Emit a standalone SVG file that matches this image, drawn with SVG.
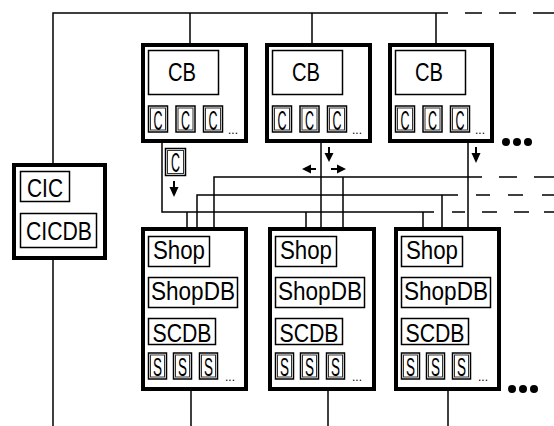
<svg xmlns="http://www.w3.org/2000/svg" width="554" height="426" viewBox="0 0 554 426">
<style>
.ob{fill:#fff;stroke:#000;stroke-width:4}
.ib{fill:none;stroke:#000;stroke-width:1.5}
.db{fill:none;stroke:#333;stroke-width:1}
.t{font-family:"Liberation Sans",Arial,sans-serif;fill:#000;text-anchor:middle}
.big{font-size:25px}
.tall{font-size:27px}
.sm{font-size:26px}
.dots{font-family:"Liberation Sans",Arial,sans-serif;font-size:12px;fill:#000}
.w{fill:none;stroke:#000;stroke-width:1.5}
.ah{fill:#000;stroke:none}
.as{stroke:#000;stroke-width:2}
</style>
<rect width="554" height="426" fill="#fff"/>
<g id="connectors">
<path class="w" d="M53,163 V13 H448 M465,13 H482 M499,13 H516 M533,13 H554 M190,13 V45 M312,13 V45 M436,13 V45 M53,258 V426 M191,389 V426 M328,389 V426 M448,389 V426"/>
<path class="w" d="M162,141 V212 H434 M452,212 H465 M482,212 H497 M514,212 H529 M544,212 H554 M197,229 V195 H458 M476,195 H490 M508,195 H523 M542,195 H554 M214,229 V177 H482 M499,177 H517 M534,177 H554"/>
<path class="w" d="M187,212 V229 M306,212 V229 M321,141 V229 M343,177 V229 M423,212 V229 M442,195 V229 M468,141 V229"/>
<g id="c-label">
<rect class="ib" x="165.5" y="148.5" width="20" height="27"/>
<rect class="db" x="167.5" y="150.5" width="16" height="23"/>
<text class="t tall" x="175.5" y="171.5" textLength="9" lengthAdjust="spacingAndGlyphs">C</text>
</g>
<path class="as" d="M174,181 V188 M329,147 V154 M476,147 V154 M311,169 H316 M331,169 H337"/>
<polygon class="ah" points="169.5,187 178.5,187 174,197"/>
<polygon class="ah" points="324.5,153 333.5,153 329,162"/>
<polygon class="ah" points="471.5,153 480.5,153 476,163"/>
<polygon class="ah" points="302,169 311,164.5 311,173.5"/>
<polygon class="ah" points="346,169 337,164.5 337,173.5"/>
</g>
<g id="cic">
<rect class="ob" x="14" y="165" width="91" height="93"/>
<rect class="ib" x="20.5" y="171.5" width="49" height="30"/>
<text class="t" style="font-size:26.5px" x="45" y="197" textLength="36" lengthAdjust="spacingAndGlyphs">CIC</text>
<rect class="ib" x="20.5" y="213.5" width="76" height="34"/>
<text class="t big" x="59" y="240" textLength="66" lengthAdjust="spacingAndGlyphs">CICDB</text>
</g>
<g id="cb1" transform="translate(141,0)">
<rect class="ob" x="2" y="45" width="103" height="96"/>
<rect class="ib" x="7.5" y="50.5" width="70" height="44"/>
<text class="t big" x="41" y="81" textLength="28" lengthAdjust="spacingAndGlyphs">CB</text>
<rect class="ib" x="7.5" y="106" width="19" height="26"/><rect class="db" x="9.5" y="108" width="15" height="22"/>
<text class="t tall" x="17" y="129.5" textLength="9" lengthAdjust="spacingAndGlyphs">C</text>
<rect class="ib" x="35" y="106" width="19" height="26"/><rect class="db" x="37" y="108" width="15" height="22"/>
<text class="t tall" x="44.5" y="129.5" textLength="9" lengthAdjust="spacingAndGlyphs">C</text>
<rect class="ib" x="62.5" y="106" width="19" height="26"/><rect class="db" x="64.5" y="108" width="15" height="22"/>
<text class="t tall" x="72" y="129.5" textLength="9" lengthAdjust="spacingAndGlyphs">C</text>
<text class="dots" x="87" y="134">...</text>
</g>
<g id="cb2" transform="translate(265,0)">
<rect class="ob" x="2" y="45" width="103" height="96"/>
<rect class="ib" x="7.5" y="50.5" width="70" height="44"/>
<text class="t big" x="41" y="81" textLength="28" lengthAdjust="spacingAndGlyphs">CB</text>
<rect class="ib" x="7.5" y="106" width="19" height="26"/><rect class="db" x="9.5" y="108" width="15" height="22"/>
<text class="t tall" x="17" y="129.5" textLength="9" lengthAdjust="spacingAndGlyphs">C</text>
<rect class="ib" x="35" y="106" width="19" height="26"/><rect class="db" x="37" y="108" width="15" height="22"/>
<text class="t tall" x="44.5" y="129.5" textLength="9" lengthAdjust="spacingAndGlyphs">C</text>
<rect class="ib" x="62.5" y="106" width="19" height="26"/><rect class="db" x="64.5" y="108" width="15" height="22"/>
<text class="t tall" x="72" y="129.5" textLength="9" lengthAdjust="spacingAndGlyphs">C</text>
<text class="dots" x="87" y="134">...</text>
</g>
<g id="cb3" transform="translate(388,0)">
<rect class="ob" x="2" y="45" width="102" height="96"/>
<rect class="ib" x="7.5" y="50.5" width="70" height="44"/>
<text class="t big" x="41" y="81" textLength="28" lengthAdjust="spacingAndGlyphs">CB</text>
<rect class="ib" x="7.5" y="106" width="19" height="26"/><rect class="db" x="9.5" y="108" width="15" height="22"/>
<text class="t tall" x="17" y="129.5" textLength="9" lengthAdjust="spacingAndGlyphs">C</text>
<rect class="ib" x="35" y="106" width="19" height="26"/><rect class="db" x="37" y="108" width="15" height="22"/>
<text class="t tall" x="44.5" y="129.5" textLength="9" lengthAdjust="spacingAndGlyphs">C</text>
<rect class="ib" x="62.5" y="106" width="19" height="26"/><rect class="db" x="64.5" y="108" width="15" height="22"/>
<text class="t tall" x="72" y="129.5" textLength="9" lengthAdjust="spacingAndGlyphs">C</text>
<text class="dots" x="87" y="134">...</text>
</g>
<g id="cb-more">
<circle cx="506" cy="142" r="4"/><circle cx="517" cy="142" r="4"/><circle cx="528" cy="142" r="4"/>
</g>
<g id="shop1" transform="translate(141,0)">
<rect class="ob" x="2" y="229" width="103" height="160"/>
<rect class="ib" x="7.5" y="236.5" width="61" height="30"/>
<text class="t big" x="38" y="259" textLength="52" lengthAdjust="spacingAndGlyphs">Shop</text>
<rect class="ib" x="7.5" y="277.5" width="89" height="30"/>
<text class="t big" x="52" y="300" textLength="84" lengthAdjust="spacingAndGlyphs">ShopDB</text>
<rect class="ib" x="7.5" y="318.5" width="67" height="26"/>
<text class="t big" x="41" y="342" textLength="59" lengthAdjust="spacingAndGlyphs">SCDB</text>
<rect class="ib" x="7.5" y="353" width="18" height="26"/><rect class="db" x="9.5" y="355" width="14" height="22"/>
<text class="t sm" x="16.5" y="375.5" textLength="9" lengthAdjust="spacingAndGlyphs">S</text>
<rect class="ib" x="32.5" y="353" width="18" height="26"/><rect class="db" x="34.5" y="355" width="14" height="22"/>
<text class="t sm" x="41.5" y="375.5" textLength="9" lengthAdjust="spacingAndGlyphs">S</text>
<rect class="ib" x="58.5" y="353" width="18" height="26"/><rect class="db" x="60.5" y="355" width="14" height="22"/>
<text class="t sm" x="67.5" y="375.5" textLength="9" lengthAdjust="spacingAndGlyphs">S</text>
<text class="dots" x="84" y="381">...</text>
</g>
<g id="shop2" transform="translate(268,0)">
<rect class="ob" x="2" y="229" width="104" height="160"/>
<rect class="ib" x="7.5" y="236.5" width="61" height="30"/>
<text class="t big" x="38" y="259" textLength="52" lengthAdjust="spacingAndGlyphs">Shop</text>
<rect class="ib" x="7.5" y="277.5" width="89" height="30"/>
<text class="t big" x="52" y="300" textLength="84" lengthAdjust="spacingAndGlyphs">ShopDB</text>
<rect class="ib" x="7.5" y="318.5" width="67" height="26"/>
<text class="t big" x="41" y="342" textLength="59" lengthAdjust="spacingAndGlyphs">SCDB</text>
<rect class="ib" x="7.5" y="353" width="18" height="26"/><rect class="db" x="9.5" y="355" width="14" height="22"/>
<text class="t sm" x="16.5" y="375.5" textLength="9" lengthAdjust="spacingAndGlyphs">S</text>
<rect class="ib" x="32.5" y="353" width="18" height="26"/><rect class="db" x="34.5" y="355" width="14" height="22"/>
<text class="t sm" x="41.5" y="375.5" textLength="9" lengthAdjust="spacingAndGlyphs">S</text>
<rect class="ib" x="58.5" y="353" width="18" height="26"/><rect class="db" x="60.5" y="355" width="14" height="22"/>
<text class="t sm" x="67.5" y="375.5" textLength="9" lengthAdjust="spacingAndGlyphs">S</text>
<text class="dots" x="84" y="381">...</text>
</g>
<g id="shop3" transform="translate(394,0)">
<rect class="ob" x="2" y="229" width="103" height="160"/>
<rect class="ib" x="7.5" y="236.5" width="61" height="30"/>
<text class="t big" x="38" y="259" textLength="52" lengthAdjust="spacingAndGlyphs">Shop</text>
<rect class="ib" x="7.5" y="277.5" width="89" height="30"/>
<text class="t big" x="52" y="300" textLength="84" lengthAdjust="spacingAndGlyphs">ShopDB</text>
<rect class="ib" x="7.5" y="318.5" width="67" height="26"/>
<text class="t big" x="41" y="342" textLength="59" lengthAdjust="spacingAndGlyphs">SCDB</text>
<rect class="ib" x="7.5" y="353" width="18" height="26"/><rect class="db" x="9.5" y="355" width="14" height="22"/>
<text class="t sm" x="16.5" y="375.5" textLength="9" lengthAdjust="spacingAndGlyphs">S</text>
<rect class="ib" x="32.5" y="353" width="18" height="26"/><rect class="db" x="34.5" y="355" width="14" height="22"/>
<text class="t sm" x="41.5" y="375.5" textLength="9" lengthAdjust="spacingAndGlyphs">S</text>
<rect class="ib" x="58.5" y="353" width="18" height="26"/><rect class="db" x="60.5" y="355" width="14" height="22"/>
<text class="t sm" x="67.5" y="375.5" textLength="9" lengthAdjust="spacingAndGlyphs">S</text>
<text class="dots" x="84" y="381">...</text>
</g>
<g id="shop-more">
<circle cx="512" cy="389" r="4"/><circle cx="523" cy="389" r="4"/><circle cx="534" cy="389" r="4"/>
</g>
</svg>
